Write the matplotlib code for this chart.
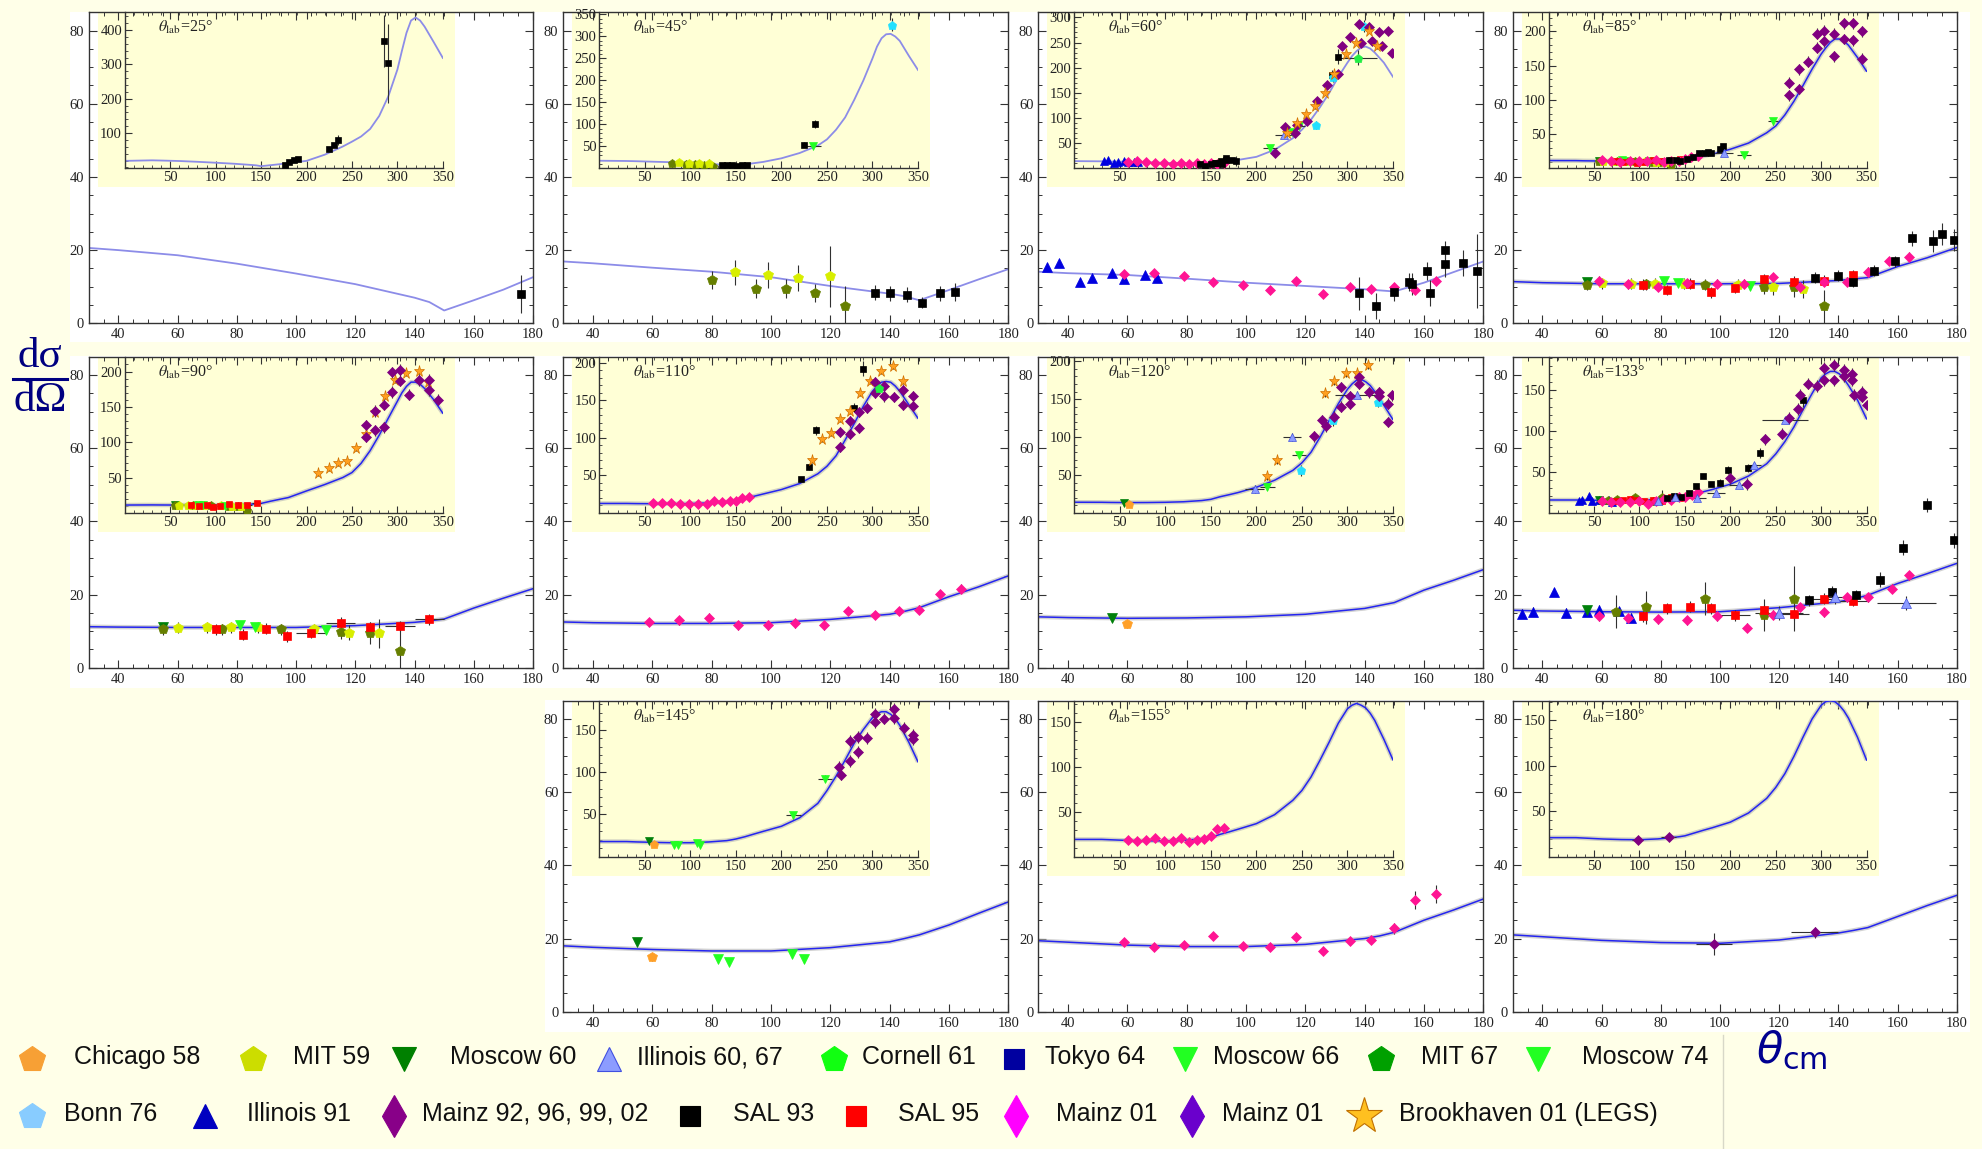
import numpy as np
import matplotlib
matplotlib.use('Agg')
import matplotlib.pyplot as plt
from matplotlib.patches import Rectangle
from matplotlib.lines import Line2D
from matplotlib.ticker import MultipleLocator

plt.rcParams['font.family'] = ['Liberation Serif', 'DejaVu Serif']
plt.rcParams['mathtext.fontset'] = 'stix'

W, H = 1982, 1149
BG = '#FFFFE8'
INSET_BG = '#FFFFD6'
NAVY = '#000080'

# --- theory curves ---
main_x = [30, 40, 60, 80, 100, 120, 140, 145, 150, 160, 170, 180]
# the insets reuse the low-energy part of the main curve; only E=0 and E>=200 are extra
ins_hi_x = [200, 220, 240, 250, 260, 270, 280, 290, 300, 305, 310, 315, 320, 325, 330, 340, 350]

main_25 = [20.6, 20.0, 18.6, 16.3, 13.6, 10.7, 7.0, 5.8, 3.5, 6.3, 9.2, 12.6]
main_45 = [16.9, 16.4, 15.2, 14.1, 12.6, 10.2, 8.1, 7.4, 6.3, 9.1, 12.0, 14.8]
main_60 = [14.1, 13.7, 13.2, 12.2, 11.1, 10.2, 9.3, 9.0, 8.7, 11.1, 14.0, 16.9]
main_85 = [11.4, 11.1, 10.8, 10.8, 10.8, 10.9, 11.7, 12.1, 12.5, 15.5, 17.9, 20.7]
main_90 = [11.2, 11.1, 11.0, 11.0, 11.0, 11.5, 12.4, 12.8, 13.3, 16.3, 19.0, 21.6]
main_110 = [12.5, 12.3, 12.1, 12.1, 12.3, 13.2, 14.6, 15.4, 16.4, 19.4, 22.1, 25.1]
main_120 = [13.9, 13.7, 13.5, 13.6, 13.9, 14.6, 16.2, 17.0, 17.8, 21.2, 23.9, 26.8]
main_133 = [15.7, 15.5, 15.3, 15.2, 15.3, 16.4, 18.0, 18.8, 19.8, 23.0, 25.7, 28.5]
main_145 = [18.0, 17.6, 17.0, 16.6, 16.6, 17.5, 19.1, 20.0, 21.0, 23.7, 26.9, 30.0]
main_155 = [19.4, 19.0, 18.2, 17.8, 17.8, 18.4, 20.0, 20.7, 21.7, 25.0, 27.8, 30.8]
main_180 = [21.0, 20.5, 19.5, 18.9, 18.7, 19.6, 21.5, 22.2, 23.0, 26.0, 29.0, 31.8]

ins0_25, ins_25 = 19, [19, 37, 61, 75, 90, 112, 150, 207, 285, 340, 392, 428, 437, 428, 410, 365, 319]
ins0_45, ins_45 = 17.5, [23, 35, 52, 66, 88, 116, 156, 200, 250, 277, 296, 305, 306, 300, 290, 256, 224]
ins0_60, ins_60 = 14.5, [23, 37, 60, 77, 97, 122, 150, 182, 210, 223, 233, 240, 242, 238, 230, 210, 182]
ins0_85, ins_85 = 11.5, [28, 37, 52, 62, 78, 98, 121, 145, 167, 176, 184, 189, 189, 186, 180, 162, 142]
ins0_90, ins_90 = 11, [31, 40, 50, 57, 70, 88, 110, 134, 158, 170, 179, 185, 185, 182, 176, 160, 141]
ins0_110, ins_110 = 12.5, [31, 39, 52, 62, 76, 97, 119, 142, 162, 169, 174, 175, 174, 169, 162, 144, 126]
ins0_120, ins_120 = 14, [33.7, 43, 56, 66, 80, 100, 122, 144, 163, 170, 175, 176, 173, 168, 160, 142, 123]
ins0_133, ins_133 = 15.7, [35, 45, 60, 72, 87, 105, 126, 146, 165, 170, 173, 173, 170, 164, 156, 138, 115]
ins0_145, ins_145 = 18, [36, 46, 63, 78, 95, 114, 134, 150, 164, 169, 171, 171, 168, 163, 155, 135, 112]
ins0_155, ins_155 = 19.4, [37, 47, 63, 74, 89, 108, 128, 149, 165, 169, 171, 169, 166, 160, 152, 131, 108]
ins0_180, ins_180 = 21, [38, 48, 64, 76, 91, 110, 131, 151, 166, 170, 171, 170, 166, 160, 152, 131, 106]

# --- measured points: name -> (E, dsigma, yerr[, xerr]) ---
pts_25 = {
    'SAL 93': ([176, 181, 186, 191, 225, 230, 235, 285, 290],
               [7.9, 17, 22, 25, 55, 66, 79, 368, 304],
               [5.2, 3, 3, 3, 5, 6, 15, 75, 115]),
}
pts_45 = {
    'MIT 67': ([80, 95, 105, 115, 125], [11.8, 9.5, 9.5, 8.2, 4.7], [2.5, 2.5, 2.5, 2.5, 5.5]),
    'MIT 59': ([88, 99, 109, 120], [13.9, 13.2, 12.3, 12.8], [3.5, 3.5, 3.5, 8.3]),
    'SAL 93': ([135, 140, 146, 151, 157, 162, 225, 237],
               [8.4, 8.2, 7.8, 5.6, 8.2, 8.6, 54, 101], [2, 2, 2, 1.5, 2, 2.5, 5, 10]),
    'Moscow 74': ([235], [50], [4], [8]),
    'Bonn 76': ([322], [327], [15]),
}
pts_60 = {
    'Illinois 91': ([33, 37, 44, 48, 55, 59, 66, 70],
                    [15.5, 16.4, 11.4, 12.3, 13.8, 12.0, 13.2, 12.5], 1),
    'Mainz 01': ([59, 69, 79, 89, 99, 108, 117, 126, 135, 142, 150, 157, 164],
                 [13.4, 13.8, 12.9, 11.4, 10.5, 9.1, 11.6, 7.9, 9.8, 9.3, 10.0, 9.1, 11.6], 1),
    'SAL 93': ([138, 144, 150, 155, 156, 161, 162, 167, 167, 173, 178, 283, 290],
               [8.2, 4.7, 8.6, 11.3, 10.8, 14.3, 8.2, 20.0, 16.1, 16.4, 14.3, 185, 222],
               [4.5, 3.5, 2.5, 2.5, 3, 2.5, 3.5, 2.5, 3.5, 3.5, 10, 10, 15]),
    'Moscow 74': ([215, 239, 247], [40, 73, 85], [4, 6, 6], [8, 6, 6]),
    'Cornell 61': ([312], [220], [15], [20]),
    'Illinois 60, 67': ([230], [67], [5], [10]),
    'Bonn 76': ([265, 284, 318], [87, 182, 283], [8, 10, 12]),
    'Mainz 92, 96, 99, 02': ([220, 231, 242, 245, 256, 267, 278, 290, 294, 303, 313, 315, 324, 327, 335, 338, 344, 349],
                             [30, 83, 71, 87, 95, 133, 165, 187, 243, 260, 287, 250, 280, 253, 270, 243, 273, 230], 8),
    'Brookhaven 01 (LEGS)': ([234, 245, 254, 264, 275, 285, 298, 309, 324, 333],
                             [70, 91, 108, 123, 150, 187, 227, 250, 273, 243], 5),
}
pts_85 = {
    'Moscow 60': ([55], [11.2], 1),
    'MIT 67': ([55, 75, 95, 115, 125, 135], [10.5, 10.7, 10.5, 10.0, 9.8, 4.7], [1.5, 1.5, 1.5, 2, 2.5, 4.5]),
    'MIT 59': ([60, 70, 78, 88, 106, 118, 128], [10.9, 10.8, 10.8, 10.8, 10.5, 9.8, 9.3], [1.5, 1.5, 1.5, 1.5, 1.5, 2, 2.5]),
    'Moscow 66': ([81, 86, 110], [11.6, 10.9, 10.2], 1),
    'SAL 95': ([74, 82, 90, 97, 105, 115, 125, 135, 145],
               [10.5, 9.1, 10.8, 8.5, 9.7, 12.1, 11.4, 11.6, 13.2], 1.5),
    'Mainz 01': ([59, 69, 79, 89, 99, 108, 118, 127, 135, 143, 150, 157, 164],
                 [11.6, 10.7, 10.0, 10.9, 10.8, 10.8, 12.6, 10.0, 11.4, 11.4, 14.1, 17.0, 18.2], 1.2),
    'SAL 93': ([132, 140, 145, 152, 159, 165, 172, 179, 175, 189, 192],
               [12.5, 13.0, 11.4, 14.4, 17.0, 23.2, 22.5, 22.8, 24.5, 28, 33],
               [1.5, 1.5, 1.5, 1.5, 1.5, 2, 3, 3, 3, 3, 3]),
    'Illinois 60, 67': ([193], [22], [3], [10]),
    'Moscow 74': ([215, 247], [19.6, 68.6], [3, 5], [8, 6]),
    'Mainz 92, 96, 99, 02': ([265, 265, 276, 276, 285, 295, 295, 303, 303, 314, 314, 325, 325, 335, 335, 345, 345],
                             [125, 107, 145, 116, 156, 176, 197, 201, 186, 197, 164, 212, 189, 212, 187, 200, 160], 8),
}
pts_90 = {
    'Moscow 60': ([55], [11.2], 1),
    'MIT 67': ([55, 75, 95, 115, 125, 135], [10.5, 10.5, 10.5, 9.8, 9.6, 4.6], [1.5, 1.5, 1.5, 2, 3, 6]),
    'MIT 59': ([60, 70, 78, 87, 106, 118, 128], [10.9, 11.0, 11.0, 11.0, 10.5, 9.6, 9.4], [1.5, 1.5, 1.5, 1.5, 1.5, 2, 4]),
    'Moscow 66': ([81, 86, 110], [11.6, 11.0, 10.3], 1),
    'SAL 95': ([73, 82, 90, 97, 105, 115, 125, 135, 145],
               [10.5, 9.0, 10.7, 8.6, 9.5, 12.3, 11.0, 11.4, 13.2], 1.5,
               [0, 0, 0, 0, 5, 5, 0, 5, 5]),
    'Brookhaven 01 (LEGS)': ([213, 225, 235, 245, 254, 265, 275, 286, 297, 310, 324, 334],
                             [56, 63, 70, 74, 92, 112, 143, 165, 188, 198, 201, 185], 4),
    'Mainz 92, 96, 99, 02': ([265, 265, 275, 275, 285, 285, 294, 294, 303, 303, 313, 324, 335, 335, 345],
                             [124, 108, 144, 117, 153, 121, 171, 199, 202, 187, 167, 188, 188, 174, 160], 8),
}
pts_110 = {
    'Mainz 01': ([59, 69, 79, 89, 99, 108, 118, 126, 135, 143, 150, 157, 164],
                 [12.5, 13.0, 13.7, 11.6, 11.6, 12.1, 11.6, 15.5, 14.4, 15.5, 15.9, 20.1, 21.6], 1.2),
    'SAL 93': ([221, 230, 238, 280, 290], [45, 61, 110, 140, 192], [3, 4, 6, 6, 10]),
    'Brookhaven 01 (LEGS)': ([234, 245, 254, 264, 275, 286, 297, 309, 323, 334],
                             [71, 98, 106, 125, 136, 160, 175, 189, 196, 175], 4),
    'Mainz 92, 96, 99, 02': ([264, 264, 275, 275, 285, 285, 294, 303, 303, 313, 313, 324, 334, 334, 344, 344],
                             [108, 88, 122, 105, 113, 134, 140, 160, 174, 155, 169, 154, 163, 144, 155, 142], 7),
    'Cornell 61': ([307], [166], 5),
}
pts_120 = {
    'Moscow 60': ([55], [13.5], 1),
    'Chicago 58': ([60], [11.9], 1),
    'Illinois 60, 67': ([198, 239, 311], [31.5, 100, 156], 5, [10, 10, 25]),
    'Moscow 74': ([212, 247], [34, 76], 4, [8, 8]),
    'Bonn 76': ([249, 284, 334], [56, 122, 146], 7),
    'Brookhaven 01 (LEGS)': ([212, 223, 275, 285, 298, 310, 323], [48, 70, 158, 174, 184, 184, 195], 5),
    'Mainz 92, 96, 99, 02': ([263, 272, 276, 285, 293, 293, 303, 303, 313, 313, 324, 335, 335, 345, 345, 349],
                             [101, 122, 114, 127, 166, 140, 154, 144, 170, 179, 159, 159, 154, 144, 120, 155], 7),
}
pts_133 = {
    'Illinois 91': ([33, 37, 44, 48, 55, 59, 66, 70], [14.8, 15.3, 20.7, 15.0, 15.3, 15.9, 15.5, 13.7], 1.2),
    'Moscow 60': ([55], [15.7], 1),
    'MIT 67': ([65, 75, 95, 115, 125], [15.3, 16.5, 18.9, 14.4, 18.9], [4.5, 4.5, 4.5, 4.5, 9]),
    'SAL 95': ([74, 82, 90, 97, 105, 115, 125, 135, 145],
               [14.1, 16.2, 16.6, 16.2, 14.4, 15.7, 14.6, 18.9, 18.3], 1.5,
               [0, 0, 0, 0, 5, 0, 5, 5, 5]),
    'Mainz 01': ([59, 69, 79, 89, 99, 109, 118, 127, 135, 143, 150, 158, 164],
                 [14.1, 13.6, 13.2, 13.0, 14.1, 10.9, 14.5, 16.6, 15.1, 19.2, 19.2, 21.6, 25.2], 1.2),
    'SAL 93': ([130, 138, 146, 154, 162, 170, 179, 189, 197, 220, 233, 280],
               [18.5, 20.7, 19.8, 24.1, 32.8, 44.5, 34.8, 37, 52, 55, 73, 138],
               [1.5, 1.5, 1.5, 2, 2, 2, 2, 4, 5, 5, 6, 8]),
    'Illinois 60, 67': ([120, 139, 163, 184, 210, 226, 260], [15, 19.4, 17.7, 24.5, 34, 58.6, 113], 2,
                        [8, 5, 10, 10, 12, 8, 25]),
    'Mainz 92, 96, 99, 02': ([200, 218, 238, 257, 265, 274, 277, 285, 295, 303, 303, 314, 314, 325, 325, 334, 334, 336, 345, 345, 350],
                             [42, 35, 90, 97, 116, 127, 144, 158, 155, 177, 162, 181, 162, 175, 167, 170, 162, 144, 148, 142, 132], 7),
}
pts_145 = {
    'Moscow 60': ([55], [19.1], 1),
    'Chicago 58': ([60], [14.9], 1),
    'Moscow 66': ([82, 86, 107, 111], [14.3, 13.7, 15.8, 14.3], 1),
    'Moscow 74': ([213, 248], [49, 92], 4, [8, 8]),
    'Mainz 92, 96, 99, 02': ([263, 265, 275, 275, 284, 284, 294, 303, 303, 313, 324, 324, 335, 345, 345],
                             [106, 97, 136, 113, 124, 141, 140, 168, 159, 163, 174, 164, 152, 144, 139], 7),
}
pts_155 = {
    'Mainz 01': ([59, 69, 79, 89, 99, 108, 117, 126, 135, 142, 150, 157, 164],
                 [19.1, 17.8, 18.2, 20.7, 18.0, 17.6, 20.5, 16.7, 19.3, 19.6, 22.8, 30.5, 32.1],
                 [1, 1, 1, 1, 1, 1, 1, 1, 1, 1, 1.5, 2.5, 2.5]),
}
pts_180 = {
    'Mainz 92, 96, 99, 02': ([98, 132], [18.5, 21.7], [3, 1.5], [6, 8]),
}

# marker, colour in plots, colour in legend
styles = {
    'Chicago 58': ('p', '#FFA028', '#F7A035'),
    'MIT 59': ('p', '#D8EE00', '#CCDD00'),
    'Moscow 60': ('v', '#00800A', '#008000'),
    'Illinois 60, 67': ('^', '#8C9CFF', '#8C9CFF'),
    'Cornell 61': ('p', '#22EE44', '#11FF11'),
    'Tokyo 64': ('s', '#0000A0', '#0000A0'),
    'Moscow 66': ('v', '#22FF22', '#22FF22'),
    'MIT 67': ('p', '#667F00', '#00A000'),
    'Moscow 74': ('v', '#22FF22', '#22FF22'),
    'Bonn 76': ('p', '#22E0FF', '#88CCFF'),
    'Illinois 91': ('^', '#0000E0', '#0000C0'),
    'Mainz 92, 96, 99, 02': ('D', '#800080', '#880088'),
    'SAL 93': ('s', '#000000', '#000000'),
    'SAL 95': ('s', '#FF0000', '#FF0000'),
    'Mainz 01': ('D', '#FF1493', '#FF00FF'),
    'Mainz 01 b': ('D', '#6A00CC', '#6A00CC'),
    'Brookhaven 01 (LEGS)': ('*', '#FFA020', '#FFC020'),
}
msize = {'s': 5.6, 'D': 5.4, 'v': 7, '^': 7, 'p': 7.5, '*': 9.5}

legend_row1 = [('Chicago 58', 'Chicago 58'), ('MIT 59', 'MIT 59'), ('Moscow 60', 'Moscow 60'),
               ('Illinois 60, 67', 'Illinois 60, 67'), ('Cornell 61', 'Cornell 61'), ('Tokyo 64', 'Tokyo 64'),
               ('Moscow 66', 'Moscow 66'), ('MIT 67', 'MIT 67'), ('Moscow 74', 'Moscow 74')]
legend_row2 = [('Bonn 76', 'Bonn 76'), ('Illinois 91', 'Illinois 91'),
               ('Mainz 92, 96, 99, 02', 'Mainz 92, 96, 99, 02'), ('SAL 93', 'SAL 93'), ('SAL 95', 'SAL 95'),
               ('Mainz 01', 'Mainz 01'), ('Mainz 01 b', 'Mainz 01'), ('Brookhaven 01 (LEGS)', 'Brookhaven 01 (LEGS)')]
# layout (pixels): marker x, text x
legend_pos1 = [(32, 74), (253, 293), (404, 450), (609, 637), (834, 862), (1014, 1045), (1185, 1213), (1381, 1421), (1538, 1582)]
legend_pos2 = [(32, 64), (205, 247), (394, 422), (690, 733), (856, 898), (1016, 1056), (1192, 1222), (1364, 1399)]

panels = [
    (25, 0, 0, main_25, ins0_25, ins_25, pts_25, (-3, 452), 100, 20, False),
    (45, 0, 1, main_45, ins0_45, ins_45, pts_45, (0, 355), 50, 10, False),
    (60, 0, 2, main_60, ins0_60, ins_60, pts_60, (0, 310), 50, 10, False),
    (85, 0, 3, main_85, ins0_85, ins_85, pts_85, (0, 228), 50, 10, True),
    (90, 1, 0, main_90, ins0_90, ins_90, pts_90, (0, 221), 50, 10, True),
    (110, 1, 1, main_110, ins0_110, ins_110, pts_110, (0, 208), 50, 10, True),
    (120, 1, 2, main_120, ins0_120, ins_120, pts_120, (0, 206), 50, 10, True),
    (133, 1, 3, main_133, ins0_133, ins_133, pts_133, (0, 191), 50, 10, True),
    (145, 2, 1, main_145, ins0_145, ins_145, pts_145, (0, 184), 50, 10, True),
    (155, 2, 2, main_155, ins0_155, ins_155, pts_155, (0, 174), 50, 10, True),
    (180, 2, 3, main_180, ins0_180, ins_180, pts_180, (0, 171), 50, 10, True),
]

rows = [(12.3, 323.3), (356.7, 667.7), (700.7, 1011.7)]
cols = [(88.8, 533.0), (563.3, 1008.3), (1038.3, 1483.3), (1512.7, 1956.7)]


def box(x0, y0, x1, y1):
    return [x0 / W, 1 - y1 / H, (x1 - x0) / W, (y1 - y0) / H]


def plot_points(ax, pts, scale, xmax=None):
    for name, p in pts.items():
        x = np.array(p[0], float)
        y = np.array(p[1], float)
        e = np.broadcast_to(np.array(p[2], float), x.shape)
        xe = np.broadcast_to(np.array(p[3], float), x.shape) if len(p) > 3 else None
        keep = x < xmax if xmax else np.ones(len(x), bool)
        if not keep.any():
            continue
        m, fc, _ = styles[name]
        ec = '#4050E0' if name == 'Illinois 60, 67' else ('#D07000' if m == '*' else fc)
        ax.errorbar(x[keep], y[keep], yerr=e[keep], xerr=None if xe is None else xe[keep],
                    fmt=m, ms=msize[m] * scale, mfc=fc, mec=ec, mew=0.5,
                    ecolor='#303030', elinewidth=0.8, capsize=0, zorder=3)


def draw_curve(ax, x, y, dark):
    if dark:
        ax.plot(x, y, color='#b4b4b4', lw=3.2, alpha=0.6, zorder=2, solid_capstyle='butt')
        ax.plot(x, y, color='#2424f0', lw=1.1, zorder=2.1)
    else:
        ax.plot(x, y, color='#8c8ce8', lw=1.3, zorder=2)


fig = plt.figure(figsize=(W / 100, H / 100), dpi=100, facecolor=BG)

# white backgrounds behind each row of panels
for (x0, y0, x1, y1) in [(70, 12, 1970, 342), (70, 356, 1970, 688), (545, 700, 1970, 1032)]:
    fig.add_artist(Rectangle((x0 / W, 1 - y1 / H), (x1 - x0) / W, (y1 - y0) / H,
                             transform=fig.transFigure, fc='white', ec='none', zorder=-1))

for lab, r, c, mcurve, i0, ihi, pts, ylim, ystep, yminor, dark in panels:
    ax = fig.add_axes(box(cols[c][0], rows[r][0], cols[c][1], rows[r][1]))
    ax.set_facecolor('white')
    ax.set_xlim(30, 180)
    ax.set_ylim(0, 85)
    ax.xaxis.set_major_locator(MultipleLocator(20))
    ax.xaxis.set_minor_locator(MultipleLocator(5))
    ax.yaxis.set_major_locator(MultipleLocator(20))
    ax.yaxis.set_minor_locator(MultipleLocator(5))
    ax.tick_params(which='both', direction='in', top=True, right=True, labelsize=10.5,
                   color='#333333', labelcolor='#222222')
    ax.tick_params(which='major', length=6, width=0.8)
    ax.tick_params(which='minor', length=3, width=0.7)
    for s in ax.spines.values():
        s.set_color('#333333')
        s.set_linewidth(1.0)
    ax.add_patch(Rectangle((0.02, 0.437), 0.805, 0.563, transform=ax.transAxes,
                           fc=INSET_BG, ec='none', zorder=0.5))
    draw_curve(ax, main_x, mcurve, dark)
    plot_points(ax, pts, 1.0, xmax=179.9)

    ins = ax.inset_axes([0.081, 0.498, 0.716, 0.502])
    ins.set_facecolor('none')
    ins.set_xlim(0, 350)
    ins.set_ylim(*ylim)
    ins.set_xticks(range(50, 351, 50))
    ins.xaxis.set_minor_locator(MultipleLocator(10))
    ins.set_yticks(np.arange(ystep, ylim[1], ystep))
    ins.yaxis.set_minor_locator(MultipleLocator(yminor))
    ins.spines[['top', 'right']].set_visible(False)
    for s in ('left', 'bottom'):
        ins.spines[s].set_color('#333333')
        ins.spines[s].set_linewidth(1.0)
    ins.tick_params(which='both', direction='in', top=True, labelsize=10.5,
                    color='#333333', labelcolor='#222222', pad=2)
    ins.tick_params(which='major', length=5, width=0.8)
    ins.tick_params(which='minor', length=2.5, width=0.6)
    draw_curve(ins, [0] + main_x + ins_hi_x, [i0] + mcurve + ihi, dark)
    plot_points(ins, pts, 0.85)
    ins.text(0.105, 0.9, r'$\theta_{\mathrm{lab}}$=%d°' % lab, transform=ins.transAxes,
             fontsize=11.5, ha='left', va='center', color='#222222')

# y label dsigma / dOmega
fig.text(40 / W, 1 - 357 / H, 'dσ', fontsize=31, color=NAVY, ha='center', va='center')
fig.add_artist(Line2D([13 / W, 67 / W], [1 - 379 / H] * 2, transform=fig.transFigure, color=NAVY, lw=2.2))
fig.text(40 / W, 1 - 401 / H, 'dΩ', fontsize=31, color=NAVY, ha='center', va='center')

# x label
fig.text(1756 / W, 1 - 1050 / H, r'$\theta_{\mathrm{cm}}$', fontsize=31, color='#000090',
         ha='left', va='center', math_fontfamily='dejavusans')

# separator next to the axis label
fig.add_artist(Line2D([1723 / W] * 2, [1 - 1035 / H, 0], transform=fig.transFigure, color='#d8d8c8', lw=1))

# legend
leg_size = {'s': 15, 'd': 21, 'v': 17, '^': 17, 'p': 19, '*': 27}
for entries, pos, yy in [(legend_row1, legend_pos1, 1059), (legend_row2, legend_pos2, 1116)]:
    for (key, text), (mx, tx) in zip(entries, pos):
        m, _, lc = styles[key]
        if m == 'D':
            m = 'd'
        ec = '#4050E0' if key == 'Illinois 60, 67' else ('#C07000' if m == '*' else lc)
        fig.add_artist(Line2D([mx / W], [1 - yy / H], marker=m, ms=leg_size[m],
                              mfc=lc, mec=ec, mew=0.8, ls='none', transform=fig.transFigure))
        fig.text(tx / W, 1 - (yy - 2) / H, text, fontsize=18, ha='left', va='center',
                 family=['Liberation Sans', 'DejaVu Sans'], color='#111111')

fig.savefig('out.png', dpi=100, facecolor=BG)
